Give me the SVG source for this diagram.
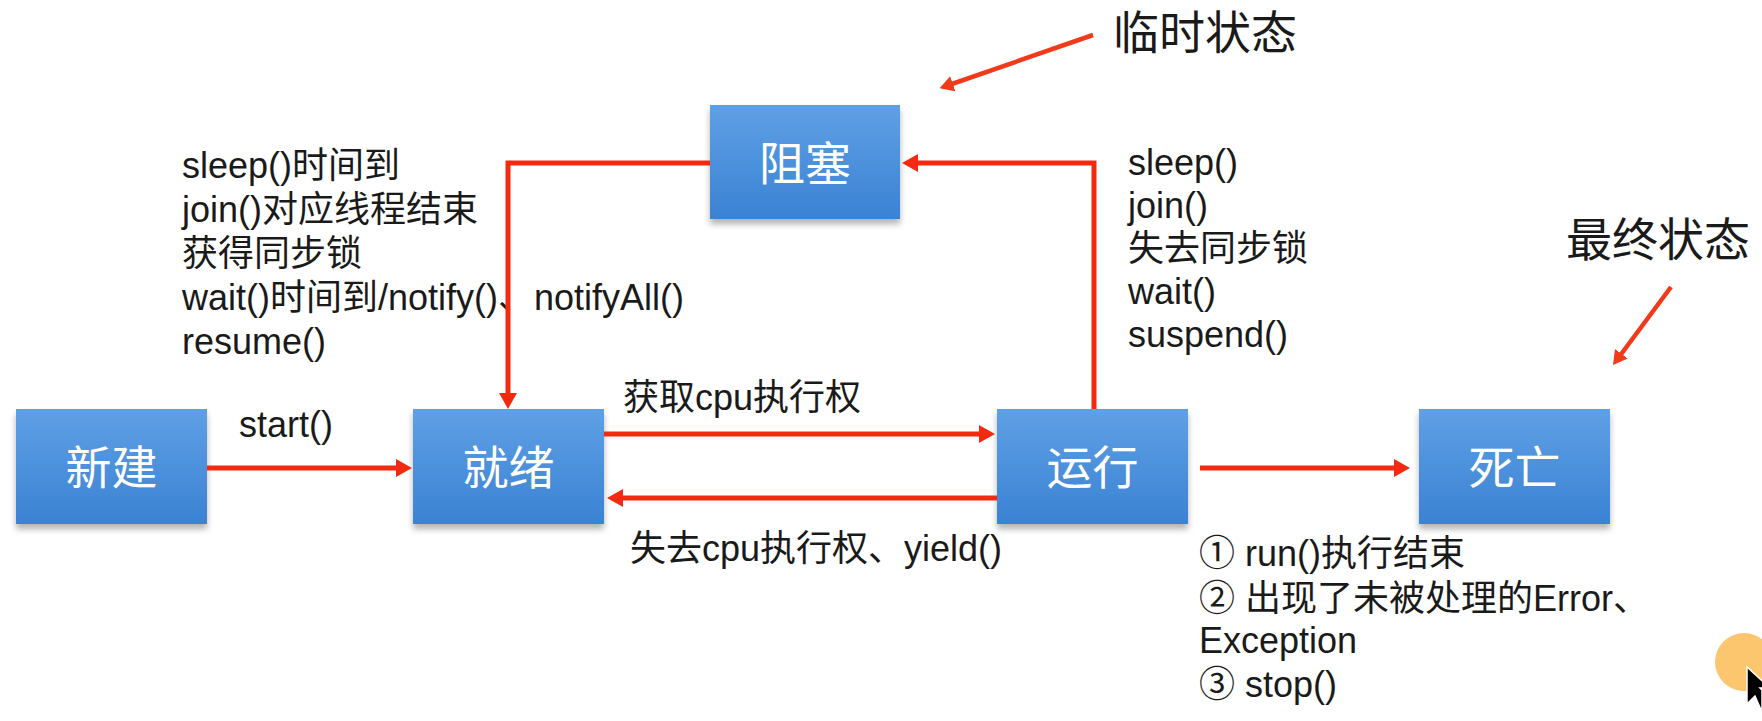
<svg xmlns="http://www.w3.org/2000/svg" width="1762" height="721" viewBox="0 0 1762 721">
<defs>
<linearGradient id="boxg" x1="0" y1="0" x2="0" y2="1">
<stop offset="0" stop-color="#5fa0e5"/>
<stop offset="1" stop-color="#3a82d3"/>
</linearGradient>
<filter id="sh" x="-10%" y="-10%" width="120%" height="130%">
<feDropShadow dx="0" dy="5" stdDeviation="3" flood-color="#000" flood-opacity="0.3"/>
</filter>
<marker id="ah" viewBox="0 0 16 18" refX="4" refY="9" markerWidth="16" markerHeight="18" markerUnits="userSpaceOnUse" orient="auto">
<path d="M0,0 L16,9 L0,18 Z" fill="#f42a10"/>
</marker>
<marker id="ahs" viewBox="0 0 14 16" refX="4" refY="8" markerWidth="14" markerHeight="16" markerUnits="userSpaceOnUse" orient="auto">
<path d="M0,0 L14,8 L0,16 Z" fill="#f03a1a"/>
</marker>
<style>
.box{fill:url(#boxg);filter:url(#sh);}
.bt{fill:#ffffff;font-family:"Noto Sans CJK SC",sans-serif;font-size:46px;text-anchor:middle;}
.lb{fill:#1a1a1a;font-family:"Liberation Sans","Noto Sans CJK SC",sans-serif;font-size:36px;}
.big{fill:#1a1a1a;font-family:"Liberation Sans","Noto Sans CJK SC",sans-serif;font-size:46px;}
.c{fill:none;stroke:#f42a10;stroke-width:5;marker-end:url(#ah);}
.cs{fill:none;stroke:#f03a1a;stroke-width:4.5;marker-end:url(#ahs);}
</style>
</defs>
<rect x="0" y="0" width="1762" height="721" fill="#ffffff"/>

<g id="node-new"><rect class="box" x="16" y="409" width="191" height="115"/><text class="bt" x="111.5" y="484">新建</text></g>
<g id="node-ready"><rect class="box" x="413" y="409" width="191" height="115"/><text class="bt" x="508.5" y="484">就绪</text></g>
<g id="node-running"><rect class="box" x="997" y="409" width="191" height="115"/><text class="bt" x="1092.5" y="484">运行</text></g>
<g id="node-dead"><rect class="box" x="1419" y="409" width="191" height="115"/><text class="bt" x="1514.5" y="484">死亡</text></g>
<g id="node-blocked"><rect class="box" x="710" y="105" width="190" height="114"/><text class="bt" x="805" y="180">阻塞</text></g>

<g id="labels">
<text class="lb" x="239" y="437">start()</text>
<text class="lb" x="623" y="410">获取cpu执行权</text>
<text class="lb" x="630" y="561">失去cpu执行权、yield()</text>
<text class="lb" x="182"><tspan x="182" y="178">sleep()时间到</tspan><tspan x="182" y="222">join()对应线程结束</tspan><tspan x="182" y="266">获得同步锁</tspan><tspan x="182" y="310">wait()时间到/notify()、notifyAll()</tspan><tspan x="182" y="354">resume()</tspan></text>
<text class="lb" x="1128"><tspan x="1128" y="175">sleep()</tspan><tspan x="1128" y="218">join()</tspan><tspan x="1128" y="261">失去同步锁</tspan><tspan x="1128" y="304">wait()</tspan><tspan x="1128" y="347">suspend()</tspan></text>
<text class="lb" x="1199"><tspan x="1199" y="566">① run()执行结束</tspan><tspan x="1199" y="611">② 出现了未被处理的Error、</tspan><tspan x="1199" y="653">Exception</tspan><tspan x="1199" y="697">③ stop()</tspan></text>
<text class="big" x="1113" y="49">临时状态</text>
<text class="big" x="1566" y="256">最终状态</text>
</g>

<g id="connectors">
<path class="c" d="M207,468 H400"/>
<path class="c" d="M604,434 H983"/>
<path class="c" d="M997,498 H619"/>
<path class="c" d="M1200,468 H1398"/>
<path class="c" d="M710,163 H508 V397"/>
<path class="c" d="M1094,409 V163 H914"/>
<path class="cs" d="M1093,35 L949,85"/>
<path class="cs" d="M1671,287 L1619,357"/>
</g>

<g id="cursor">
<circle cx="1744" cy="662" r="29" fill="#fcc66f"/>
<path d="M1747,667 L1747,704 L1755,696 L1762,712 L1762,690 L1760,688 L1770,688 Z" fill="#000" stroke="#fff" stroke-width="1.5"/>
</g>
</svg>
